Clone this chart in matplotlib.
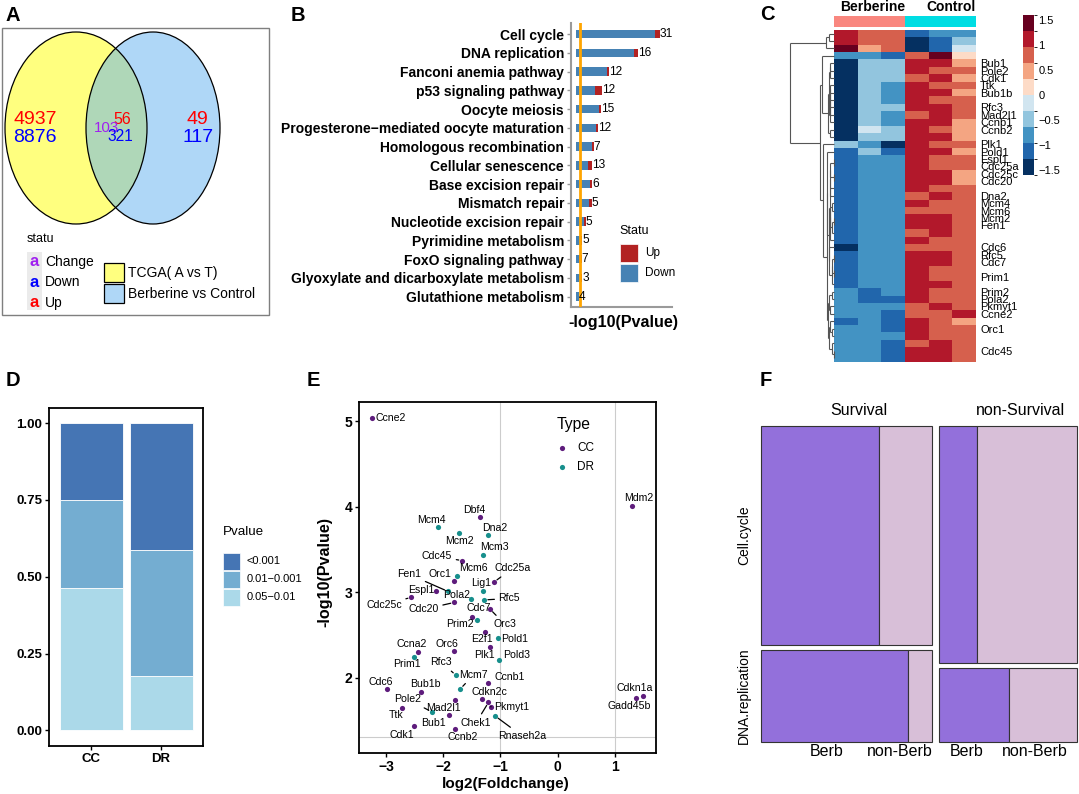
import numpy as np
import matplotlib
matplotlib.use("Agg")
import matplotlib.pyplot as plt
from matplotlib.patches import Ellipse, Rectangle
from matplotlib.colors import ListedColormap, BoundaryNorm
import matplotlib.colorbar as mcolorbar

plt.rcParams['font.family'] = ['Liberation Sans', 'DejaVu Sans']
plt.rcParams['axes.unicode_minus'] = True

# ---------------- DATA ----------------
# A: Venn counts
venn_left = {"Up": 4937, "Down": 8876}
venn_mid = {"Up": 56, "Change": 103, "Down": 321}
venn_right = {"Up": 49, "Down": 117}
venn_sets = ["TCGA( A vs T)", "Berberine vs Control"]

# B: KEGG enrichment
b_terms = ["Cell cycle", "DNA replication", "Fanconi anemia pathway", "p53 signaling pathway",
           "Oocyte meiosis", "Progesterone\u2212mediated oocyte maturation", "Homologous recombination",
           "Cellular senescence", "Base excision repair", "Mismatch repair",
           "Nucleotide excision repair", "Pyrimidine metabolism", "FoxO signaling pathway",
           "Glyoxylate and dicarboxylate metabolism", "Glutathione metabolism"]
b_down = [27.7, 20.4, 10.8, 6.6, 8.0, 7.0, 5.4, 4.0, 4.7, 4.5, 2.6, 1.3, 0.9, 1.4, 0.9]
b_up = [1.65, 1.2, 0.8, 2.4, 0.6, 0.7, 0.7, 1.4, 0.8, 0.9, 0.7, 0.8, 0.9, 0.7, 0.0]
b_count = [31, 16, 12, 12, 15, 12, 7, 13, 6, 5, 5, 5, 7, 3, 4]
b_cutoff = 1.3

# C: heatmap (row z-scores), columns Berberine x3, Control x3
hm_groups = ["Berberine", "Berberine", "Berberine", "Control", "Control", "Control"]
hm_values = [
    [1.1, 0.8, 0.8, -1.1, -0.8, -0.8],
    [1.1, 0.8, 0.8, -1.45, -1.1, -0.5],
    [1.45, 0.5, 0.8, -1.45, -1.1, -0.15],
    [-0.8, -0.8, -1.1, 0.8, 1.45, 0.15],
    [-1.45, -0.5, -0.5, 1.1, 1.1, 0.5],
    [-1.45, -0.5, -0.5, 1.1, 0.8, 0.8],
    [-1.45, -0.5, -0.5, 0.8, 1.1, 0.5],
    [-1.45, -0.5, -0.8, 1.1, 0.8, 0.8],
    [-1.45, -0.5, -0.8, 1.1, 1.1, 0.5],
    [-1.45, -0.5, -0.8, 1.1, 0.8, 0.8],
    [-1.45, -0.5, -0.5, 1.1, 1.1, 0.8],
    [-1.45, -0.5, -0.8, 0.8, 1.1, 0.8],
    [-1.45, -0.5, -0.8, 1.1, 1.1, 0.5],
    [-1.45, -0.15, -0.5, 1.1, 0.8, 0.5],
    [-1.45, -0.5, -0.5, 1.1, 1.1, 0.5],
    [-0.5, -0.8, -1.45, 1.1, 0.8, 0.8],
    [-1.1, -0.5, -1.1, 1.1, 1.1, 0.5],
    [-1.1, -0.8, -0.8, 1.1, 0.8, 0.8],
    [-1.1, -0.8, -0.8, 1.1, 0.8, 0.8],
    [-1.1, -0.8, -0.8, 1.1, 1.1, 0.5],
    [-1.1, -0.8, -0.8, 1.1, 1.1, 0.5],
    [-1.1, -0.8, -0.8, 1.1, 0.8, 0.8],
    [-1.1, -0.8, -0.8, 0.8, 1.1, 0.8],
    [-1.1, -0.8, -0.8, 1.1, 0.8, 0.8],
    [-1.1, -0.8, -0.8, 0.8, 0.8, 0.8],
    [-1.1, -0.8, -0.8, 1.1, 1.1, 0.8],
    [-1.1, -0.8, -0.8, 1.1, 1.1, 0.8],
    [-1.1, -0.8, -0.8, 0.8, 1.1, 0.8],
    [-1.1, -0.8, -0.8, 1.1, 0.8, 0.8],
    [-1.45, -0.8, -0.8, 0.8, 0.8, 0.8],
    [-1.1, -0.8, -0.8, 1.1, 1.1, 0.8],
    [-1.1, -0.8, -0.8, 1.1, 1.1, 0.8],
    [-1.1, -0.8, -0.8, 1.1, 0.8, 0.8],
    [-1.1, -0.8, -0.8, 1.1, 0.8, 0.8],
    [-1.1, -0.8, -0.8, 1.1, 1.1, 0.8],
    [-0.8, -1.1, -0.8, 1.1, 0.8, 0.8],
    [-0.8, -1.1, -1.1, 1.1, 0.8, 0.8],
    [-0.8, -0.8, -0.8, 0.8, 1.1, 0.8],
    [-0.8, -0.8, -1.1, 0.8, 0.8, 1.1],
    [-1.1, -0.8, -1.1, 1.1, 0.8, 0.5],
    [-0.8, -0.8, -1.1, 1.1, 0.8, 0.8],
    [-0.8, -0.8, -0.8, 1.1, 0.8, 0.8],
    [-0.8, -0.8, -1.1, 0.8, 1.1, 0.8],
    [-0.8, -0.8, -1.1, 1.1, 1.1, 0.8],
    [-0.8, -0.8, -1.1, 1.1, 1.1, 0.8],
]
hm_labels = ['', '', '', '', 'Bub1', 'Pole2', 'Cdk1', 'Ttk', 'Bub1b', '', 'Rfc3', 'Mad2l1',
             'Ccnb1', 'Ccnb2', '', 'Plk1', 'Pold1', 'Espl1', 'Cdc25a', 'Cdc25c', 'Cdc20', '',
             'Dna2', 'Mcm4', 'Mcm6', 'Mcm2', 'Fen1', '', '', 'Cdc6', 'Rfc5', 'Cdc7', '', 'Prim1',
             '', 'Prim2', 'Pola2', 'Pkmyt1', 'Ccne2', '', 'Orc1', '', '', 'Cdc45', '']
hm_ticks = [-1.5, -1, -0.5, 0, 0.5, 1, 1.5]

# E: volcano of pathway genes
e_genes = ["Ccne2", "Mdm2", "Dbf4", "Cdc45", "Orc1", "Cdc25a", "Espl1", "Cdc25c", "Cdc20", "Orc3",
           "Cdc7", "E2f1", "Plk1", "Orc6", "Ccna2", "Ccnb1", "Cdc6", "Bub1b", "Mad2l1", "Cdkn2c",
           "Chek1", "Pkmyt1", "Ttk", "Bub1", "Cdk1", "Ccnb2", "Cdkn1a", "Gadd45b",
           "Mcm4", "Mcm2", "Dna2", "Mcm3", "Mcm6", "Fen1", "Lig1", "Pola2", "Rfc5", "Prim2",
           "Pold1", "Pold3", "Prim1", "Rfc3", "Mcm7", "Pole2", "Rnaseh2a"]
e_type = ["CC"] * 28 + ["DR"] * 17
e_lfc = [-3.24, 1.29, -1.35, -1.67, -1.81, -1.11, -2.12, -2.56, -1.81, -1.18,
         -1.49, -1.27, -1.18, -1.82, -2.45, -1.21, -2.98, -2.39, -1.80, -1.32,
         -1.21, -1.17, -2.72, -1.90, -2.51, -1.79, 1.49, 1.36,
         -2.09, -1.73, -1.22, -1.30, -1.76, -1.92, -1.30, -1.52, -1.28, -1.41,
         -1.05, -1.02, -2.51, -1.78, -1.70, -2.20, -1.09]
e_nlp = [5.04, 4.01, 3.88, 3.37, 3.13, 3.12, 3.02, 2.94, 2.88, 2.80,
         2.71, 2.54, 2.36, 2.31, 2.30, 1.94, 1.87, 1.83, 1.74, 1.75,
         1.71, 1.66, 1.65, 1.56, 1.44, 1.40, 1.79, 1.76,
         3.76, 3.69, 3.67, 3.43, 3.19, 3.01, 3.01, 2.92, 2.91, 2.67,
         2.47, 2.21, 2.24, 2.03, 1.87, 1.60, 1.55]

# F: mosaic (Survival x pathway x Berb)
f_groups = ["Survival", "non-Survival"]
f_paths = ["Cell.cycle", "DNA.replication"]
f_berb = ["Berb", "non-Berb"]
f_counts = {
    "Survival": {"Cell.cycle": [48.5, 22.0], "DNA.replication": [25.3, 4.2]},
    "non-Survival": {"Cell.cycle": [16.9, 44.4], "DNA.replication": [9.5, 9.4]},
}

# ---------------- FIGURE ----------------
W, H = 1079, 794
fig = plt.figure(figsize=(W / 100, H / 100), dpi=100)


def px_axes(x0, y0, x1, y1):
    return fig.add_axes([x0 / W, 1 - y1 / H, (x1 - x0) / W, (y1 - y0) / H])


# ---------- B ----------
axB = px_axes(571, 23, 672, 307)
yb = np.arange(len(b_terms))
totals = np.array(b_down) + np.array(b_up)
axB.barh(yb, b_down, height=0.45, color='#4682B4', zorder=2)
axB.barh(yb, b_up, left=b_down, height=0.45, color='#B22222', zorder=2)
axB.axvline(b_cutoff, color='#FFA500', lw=2, zorder=3)
for i, c in enumerate(b_count):
    axB.text(totals[i] + 0.05, i, str(c), va='center', ha='left', fontsize=8.6)
axB.set_yticks(yb)
axB.set_yticklabels(b_terms, fontweight='bold', fontsize=10)
axB.set_ylim(len(b_terms) - 1 + 0.55, -0.59)
tmax = totals.max()
axB.set_xlim(-0.065 * tmax, 1.15 * tmax)
axB.set_xticks([])
for s in ['top', 'right']:
    axB.spines[s].set_visible(False)
for s in ['left', 'bottom']:
    axB.spines[s].set_color('#9a9a9a')
    axB.spines[s].set_linewidth(1.5)
axB.tick_params(axis='y', length=3, width=1, color='#9a9a9a', pad=2)

# ---------- C ----------
rdbu = ['#053061', '#2166ac', '#4393c3', '#92c5de', '#d1e5f0',
        '#fddbc7', '#f4a582', '#d6604d', '#b2182b', '#67001f']
hcmap = ListedColormap(rdbu)
hnorm = BoundaryNorm(np.linspace(-1.6, 1.6, 11), 10)
X = np.array(hm_values)
nrow, ncol = X.shape

axH = px_axes(834.3, 30, 976, 361.7)
axH.imshow(X, cmap=hcmap, norm=hnorm, aspect='auto', interpolation='nearest')
axH.set_xticks([])
axH.yaxis.tick_right()
axH.set_yticks(range(nrow))
axH.set_yticklabels(hm_labels, fontsize=8)
axH.tick_params(axis='y', length=0, pad=3)
for s in axH.spines.values():
    s.set_visible(False)

# annotation bar
grp_names = ["Berberine", "Control"]
grp_idx = np.array([[grp_names.index(g) for g in hm_groups]])
axAn = px_axes(834.3, 16, 976, 26.7)
axAn.imshow(grp_idx, cmap=ListedColormap(['#F9877F', '#00DDE3']), aspect='auto',
            interpolation='nearest', vmin=0, vmax=1)
axAn.axis('off')
for g in grp_names:
    last = max(i for i, gg in enumerate(hm_groups) if gg == g)
    axAn.text(last + 0.5, -0.5 - 9.0 / 10.7, g, ha='right', va='center', fontweight='bold',
              fontsize=10, clip_on=False)


# row dendrogram (complete linkage, adjacency-constrained to keep row order)
def ordered_linkage(M):
    D = np.sqrt(((M[:, None, :] - M[None, :, :]) ** 2).sum(-1))
    clusters = [[i] for i in range(len(M))]
    pos = [float(i) for i in range(len(M))]
    hts = [0.0] * len(M)
    segs = []
    while len(clusters) > 1:
        d = [D[np.ix_(clusters[k], clusters[k + 1])].max() for k in range(len(clusters) - 1)]
        k = int(np.argmin(d))
        h = d[k]
        segs.append(((hts[k], h), (pos[k], pos[k])))
        segs.append(((hts[k + 1], h), (pos[k + 1], pos[k + 1])))
        segs.append(((h, h), (pos[k], pos[k + 1])))
        clusters[k:k + 2] = [clusters[k] + clusters[k + 1]]
        pos[k:k + 2] = [(pos[k] + pos[k + 1]) / 2]
        hts[k:k + 2] = [h]
    return segs, hts[0]


segs, root_h = ordered_linkage(X)
axDen = px_axes(790, 30, 834.3, 361.7)
for xs, ys in segs:
    axDen.plot(xs, ys, color='#555555', lw=0.8, clip_on=False, solid_capstyle='butt')
axDen.set_xlim(root_h, 0)
axDen.set_ylim(nrow - 0.5, -0.5)
axDen.axis('off')

# colorbar
axCB = px_axes(1023, 15, 1034, 175)
cb = mcolorbar.ColorbarBase(axCB, cmap=hcmap, norm=hnorm, orientation='vertical')
cb.outline.set_visible(False)
cb.set_ticks(hm_ticks)
cb.set_ticklabels([('%g' % t).replace('-', '\u2212') for t in hm_ticks])
axCB.tick_params(length=0, labelsize=8, pad=3)

# ---------- D ----------
bins = ["0.05\u22120.01", "0.01\u22120.001", "<0.001"]
d_colors = {"<0.001": '#4575B4', "0.01\u22120.001": '#74ADD1', "0.05\u22120.01": '#ABD9E9'}


def pbin(v):
    if v > 3:
        return "<0.001"
    if v > 2:
        return "0.01\u22120.001"
    return "0.05\u22120.01"


d_types = ["CC", "DR"]
axDp = px_axes(49, 407.7, 203, 745.7)
for j, t in enumerate(d_types):
    vals = [e_nlp[i] for i in range(len(e_genes)) if e_type[i] == t]
    n = len(vals)
    bottom = 0.0
    for b in bins:
        frac = sum(1 for v in vals if pbin(v) == b) / n
        axDp.bar(j + 1, frac, bottom=bottom, width=0.9, color=d_colors[b],
                 edgecolor='white', linewidth=0.6)
        bottom += frac
axDp.set_xlim(0.4, 2.6)
axDp.set_ylim(-0.05, 1.05)
axDp.set_yticks([0, 0.25, 0.5, 0.75, 1.0])
axDp.set_yticklabels(["0.00", "0.25", "0.50", "0.75", "1.00"], fontweight='bold', fontsize=9.5)
axDp.set_xticks([1, 2])
axDp.set_xticklabels(d_types, fontweight='bold', fontsize=9.5)
axDp.tick_params(length=3, width=1, color='black', pad=2)
for s in axDp.spines.values():
    s.set_color('black')
    s.set_linewidth(1.3)

# ---------- E ----------
e_colors = {"CC": '#5E1C7C', "DR": '#178F8C'}
axE = px_axes(359.3, 402, 656, 753.3)
axE.axvline(-1, color='#cccccc', lw=0.8, zorder=0)
axE.axvline(1, color='#cccccc', lw=0.8, zorder=0)
axE.axhline(-np.log10(0.05), color='#cccccc', lw=0.8, zorder=0)
for t in ["CC", "DR"]:
    idx = [i for i in range(len(e_genes)) if e_type[i] == t]
    axE.scatter([e_lfc[i] for i in idx], [e_nlp[i] for i in idx], s=14,
                color=e_colors[t], zorder=3, linewidths=0)

e_label_pos = {
    "Ccne2": (-2.91, 5.035), "Mdm2": (1.416, 4.098), "Dbf4": (-1.457, 3.966),
    "Mcm4": (-2.209, 3.849), "Mcm2": (-1.719, 3.595), "Dna2": (-1.107, 3.755),
    "Mcm3": (-1.101, 3.525), "Cdc45": (-2.11, 3.419), "Mcm6": (-1.469, 3.279),
    "Orc1": (-2.051, 3.208), "Cdc25a": (-0.793, 3.279), "Fen1": (-2.593, 3.208),
    "Lig1": (-1.334, 3.103), "Espl1": (-2.389, 3.029), "Pola2": (-1.76, 2.966),
    "Rfc5": (-0.845, 2.927), "Cdc25c": (-3.036, 2.853), "Cdc20": (-2.343, 2.799),
    "Cdc7": (-1.381, 2.81), "Prim2": (-1.713, 2.627), "Orc3": (-0.927, 2.627),
    "E2f1": (-1.317, 2.447), "Pold1": (-0.758, 2.447), "Ccna2": (-2.552, 2.389),
    "Orc6": (-1.929, 2.397), "Plk1": (-1.276, 2.264), "Pold3": (-0.717, 2.264),
    "Prim1": (-2.628, 2.155), "Rfc3": (-2.034, 2.178), "Mcm7": (-1.469, 2.034),
    "Ccnb1": (-0.833, 2.01), "Cdc6": (-3.094, 1.955), "Bub1b": (-2.308, 1.924),
    "Cdkn2c": (-1.189, 1.838), "Cdkn1a": (1.352, 1.877), "Gadd45b": (1.241, 1.671),
    "Pole2": (-2.617, 1.745), "Mad2l1": (-1.993, 1.647), "Pkmyt1": (-0.81, 1.651),
    "Ttk": (-2.832, 1.561), "Bub1": (-2.168, 1.472), "Chek1": (-1.428, 1.472),
    "Cdk1": (-2.727, 1.331), "Ccnb2": (-1.661, 1.30), "Rnaseh2a": (-0.624, 1.319),
}
e_segment = {"Cdc45", "Cdc25a", "Fen1", "Rfc5", "Cdc25c", "Cdc20", "Orc3", "Rfc3", "Mcm7",
             "Pole2", "Pkmyt1", "Chek1", "Rnaseh2a"}
for i, g in enumerate(e_genes):
    lx, ly = e_label_pos[g]
    if g in e_segment:
        axE.annotate(g, xy=(e_lfc[i], e_nlp[i]), xytext=(lx, ly), ha='center', va='center',
                     fontsize=7.6, zorder=4,
                     arrowprops=dict(arrowstyle='-', color='black', lw=0.9,
                                     shrinkA=1, shrinkB=2.5))
    else:
        axE.text(lx, ly, g, ha='center', va='center', fontsize=7.6, zorder=4)
axE.set_xlim(-3.467, 1.717)
axE.set_ylim(1.115, 5.226)
axE.set_xticks([-3, -2, -1, 0, 1])
axE.set_yticks([2, 3, 4, 5])
for lab in axE.get_xticklabels() + axE.get_yticklabels():
    lab.set_fontweight('bold')
    lab.set_fontsize(10)
axE.tick_params(length=3, width=1, color='black', pad=2)
for s in axE.spines.values():
    s.set_color('black')
    s.set_linewidth(1.3)

# ---------- F ----------
f_col = {"Berb": '#9370DB', "non-Berb": '#D8BFD8'}
axF = px_axes(760.7, 425.7, 1077, 741.7)
axF.set_xlim(0, 1)
axF.set_ylim(1, 0)
axF.axis('off')
gapx = 7 / 316.3
gapy = 5 / 316.0
grand = sum(sum(sum(v) for v in f_counts[g].values()) for g in f_groups)
x0 = 0.0
renderer = fig.canvas.get_renderer()
bottom_labels = []
for gi, g in enumerate(f_groups):
    gtot = sum(sum(v) for v in f_counts[g].values())
    gw = (1 - gapx) * gtot / grand
    y0 = 0.0
    centers = {b: [] for b in f_berb}
    for pi, p in enumerate(f_paths):
        vals = f_counts[g][p]
        ph = (1 - gapy) * sum(vals) / gtot
        xx = x0
        for bi, b in enumerate(f_berb):
            w = gw * vals[bi] / sum(vals)
            axF.add_patch(Rectangle((xx, y0), w, ph, facecolor=f_col[b], edgecolor='#333333',
                                    lw=0.8, clip_on=False))
            centers[b].append(xx + w / 2)
            xx += w
        if gi == 0:
            axF.text(-0.053, y0 + ph / 2, p, rotation=90, ha='center', va='center',
                     fontsize=10, clip_on=False)
        y0 += ph + gapy
    axF.text(x0 + gw / 2 + 0.038, -0.047, g, ha='center', va='center', fontsize=11.5,
             clip_on=False)
    for b in f_berb:
        t = axF.text(np.mean(centers[b]), 1.032, b, ha='center', va='center', fontsize=11.5,
                     clip_on=False)
        bottom_labels.append((t, x0 + gw))
    x0 += gw + gapx

for t, redge in bottom_labels:
    bb = t.get_window_extent(renderer=renderer)
    rdisp = axF.transData.transform((redge, 0))[0]
    if bb.x1 > rdisp:
        t.set_ha('right')
        t.set_x(redge)

# ---------- overlay (A, legends, titles) ----------
ov = px_axes(0, 0, W, H)
ov.set_xlim(0, W)
ov.set_ylim(H, 0)
ov.axis('off')

# Panel A
ov.add_patch(Rectangle((1.7, 27.7), 267.6, 287.3, fill=False, ec='#7f7f7f', lw=1))
yel, blu = '#FFFF00', '#61B1F1'
ov.add_patch(Ellipse((76, 128), 142, 192, fc=yel, alpha=0.5, ec='none'))
ov.add_patch(Ellipse((153, 128), 134, 192, fc=blu, alpha=0.5, ec='none'))
ov.add_patch(Ellipse((76, 128), 142, 192, fc='none', ec='black', lw=0.9))
ov.add_patch(Ellipse((153, 128), 134, 192, fc='none', ec='black', lw=0.9))
stat_col = {"Up": '#FF0000', "Down": '#0000FF', "Change": '#A020F0'}
ov.text(35, 119, str(venn_left["Up"]), color=stat_col["Up"], fontsize=14, ha='center', va='center')
ov.text(35, 137.5, str(venn_left["Down"]), color=stat_col["Down"], fontsize=14, ha='center', va='center')
ov.text(122.3, 119, str(venn_mid["Up"]), color=stat_col["Up"], fontsize=11.5, ha='center', va='center')
ov.text(106.7, 127.7, str(venn_mid["Change"]), color=stat_col["Change"], fontsize=10.8, ha='center', va='center')
ov.text(120.5, 136.7, str(venn_mid["Down"]), color=stat_col["Down"], fontsize=11.2, ha='center', va='center')
ov.text(197.7, 119, str(venn_right["Up"]), color=stat_col["Up"], fontsize=14, ha='center', va='center')
ov.text(197.7, 137.5, str(venn_right["Down"]), color=stat_col["Down"], fontsize=14, ha='center', va='center')

ov.text(26.7, 239.5, "statu", fontsize=9, ha='left', va='center')
ov.add_patch(Rectangle((26.7, 251.7), 15, 58.3, fc='#EBEBEB', ec='none'))
for k, (lab, yy) in enumerate(zip(["Change", "Down", "Up"], [261.7, 282.3, 302.7])):
    ov.text(34.2, yy, "a", color=stat_col[lab], fontsize=12, fontweight='bold', ha='center', va='center')
    ov.text(45, yy, lab, fontsize=10, ha='left', va='center')
for lab, yy, c in zip(venn_sets, [263.3, 284.0], [yel, blu]):
    ov.add_patch(Rectangle((104.3, yy), 20, 19, fc=c, alpha=0.5, ec='none'))
    ov.add_patch(Rectangle((104.3, yy), 20, 19, fc='none', ec='black', lw=0.9))
    ov.text(128.3, yy + 9.7, lab, fontsize=10, ha='left', va='center')

# Panel B legend and x label
ov.text(623.3, 322, "-log10(Pvalue)", fontsize=11.6, fontweight='bold', ha='center', va='center')
ov.text(619.3, 231, "Statu", fontsize=9, ha='left', va='center')
for lab, yy, c in zip(["Up", "Down"], [244.3, 264.3], ['#B22222', '#4682B4']):
    ov.add_patch(Rectangle((620, yy), 18, 17.7, fc=c, ec='white', lw=0.5))
    ov.text(645.3, yy + 9, lab, fontsize=8.5, ha='left', va='center')

# Panel D legend
ov.text(222.7, 532, "Pvalue", fontsize=9.6, ha='left', va='center')
for k, b in enumerate(["<0.001", "0.01\u22120.001", "0.05\u22120.01"]):
    yy = 552.7 + k * 18
    ov.add_patch(Rectangle((222.7, yy), 17.3, 17.3, fc=d_colors[b], ec='white', lw=0.5))
    ov.text(246.7, yy + 8.7, b, fontsize=8, ha='left', va='center')

# Panel E legend and labels
ov.text(556.7, 424.3, "Type", fontsize=11.3, ha='left', va='center')
for k, t in enumerate(["CC", "DR"]):
    yy = 447.7 + k * 19
    ov.scatter([562], [yy], s=14, color=e_colors[t], linewidths=0)
    ov.text(577.3, yy, t, fontsize=8.5, ha='left', va='center')
ov.text(505.5, 784, "log2(Foldchange)", fontsize=11, fontweight='bold', ha='center', va='center')
ov.text(325, 571.7, "-log10(Pvalue)", fontsize=11.6, fontweight='bold', ha='center', va='center',
        rotation=90)

# panel letters
for lab, (xx, yy) in {"A": (13, 15.5), "B": (298, 15.5), "C": (767, 15), "D": (13, 381),
                       "E": (313, 381), "F": (766, 381)}.items():
    ov.text(xx, yy, lab, fontsize=14.5, fontweight='bold', ha='center', va='center')

fig.savefig("out.png", dpi=100)
